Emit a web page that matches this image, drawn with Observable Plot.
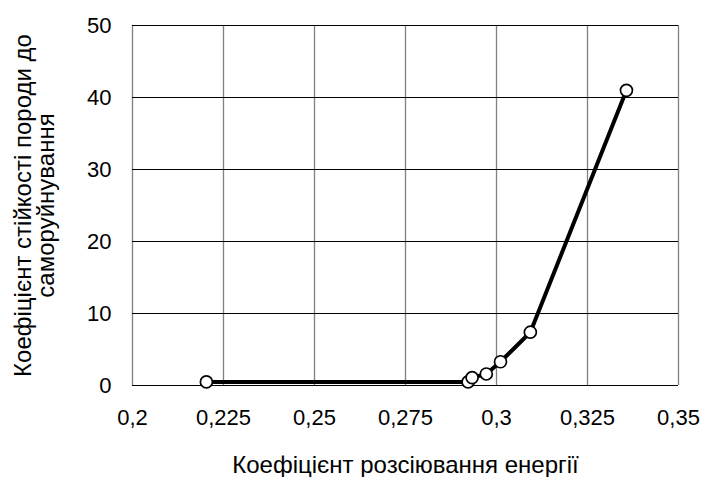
<!DOCTYPE html>
<html>
<head>
<meta charset="utf-8">
<script src="https://cdn.jsdelivr.net/npm/d3@7"></script>
<script src="https://cdn.jsdelivr.net/npm/@observablehq/plot@0.6"></script>
<style>
  html, body { margin: 0; padding: 0; background: #fff; }
  svg { display: block; }
</style>
</head>
<body>
<div id="chart"></div>
<script>
// Data
const energyScatter = [0.2203, 0.2922, 0.2933, 0.2972, 0.3011, 0.3093, 0.3357];
const stability = [0.5, 0.5, 1.1, 1.6, 3.3, 7.4, 41];

const xTicks = [0.2, 0.225, 0.25, 0.275, 0.3, 0.325, 0.35];
const xTickLabels = ["0,2", "0,225", "0,25", "0,275", "0,3", "0,325", "0,35"];
const yTicks = [0, 10, 20, 30, 40, 50];
const yTickLabels = ["0", "10", "20", "30", "40", "50"];

const xTitle = "Коефіцієнт розсіювання енергії";
const yTitle1 = "Коефіцієнт стійкості породи до";
const yTitle2 = "саморуйнування";

const points = energyScatter.map((x, i) => ({x, y: stability[i]}));
const font = "'Liberation Sans', Arial, sans-serif";
const fs = 22;
const fsTitle = 24;

const fmtX = d => { const i = xTicks.findIndex(t => Math.abs(t - d) < 1e-9); return i >= 0 ? xTickLabels[i] : String(d); };
const fmtY = d => { const i = yTicks.findIndex(t => Math.abs(t - d) < 1e-9); return i >= 0 ? yTickLabels[i] : String(d); };

const chart = Plot.plot({
  width: 705,
  height: 477,
  marginLeft: 132,
  marginRight: 27,
  marginTop: 25,
  marginBottom: 92,
  style: {fontFamily: font, fontSize: fs + "px", color: "#000", background: "#fff"},
  x: {domain: [0.2, 0.35]},
  y: {domain: [0, 50]},
  marks: [
    Plot.gridX(xTicks, {stroke: "#808080", strokeOpacity: 1, strokeWidth: 1.3}),
    Plot.gridY(yTicks, {stroke: "#000", strokeOpacity: 1, strokeWidth: 1.2}),
    Plot.axisX(xTicks, {tickSize: 0, tickPadding: 24, fontSize: fs, tickFormat: fmtX, label: null}),
    Plot.axisY(yTicks, {tickSize: 0, tickPadding: 21, fontSize: fs, tickFormat: fmtY, label: null}),
    Plot.line(points, {x: "x", y: "y", stroke: "#000", strokeWidth: 4, curve: "linear", strokeLinejoin: "round"}),
    Plot.dot(points, {x: "x", y: "y", r: 6, fill: "#fff", stroke: "#000", strokeWidth: 1.7}),
    Plot.text([xTitle], {frameAnchor: "bottom", textAnchor: "middle", lineAnchor: "middle", dy: 80, fontSize: fsTitle, fill: "#000"}),
    Plot.text([yTitle1], {frameAnchor: "left", textAnchor: "middle", lineAnchor: "middle", rotate: -90, dx: -109, fontSize: fsTitle, fill: "#000"}),
    Plot.text([yTitle2], {frameAnchor: "left", textAnchor: "middle", lineAnchor: "middle", rotate: -90, dx: -86, fontSize: fsTitle, fill: "#000"})
  ]
});
document.getElementById("chart").appendChild(chart);
</script>
</body>
</html>
